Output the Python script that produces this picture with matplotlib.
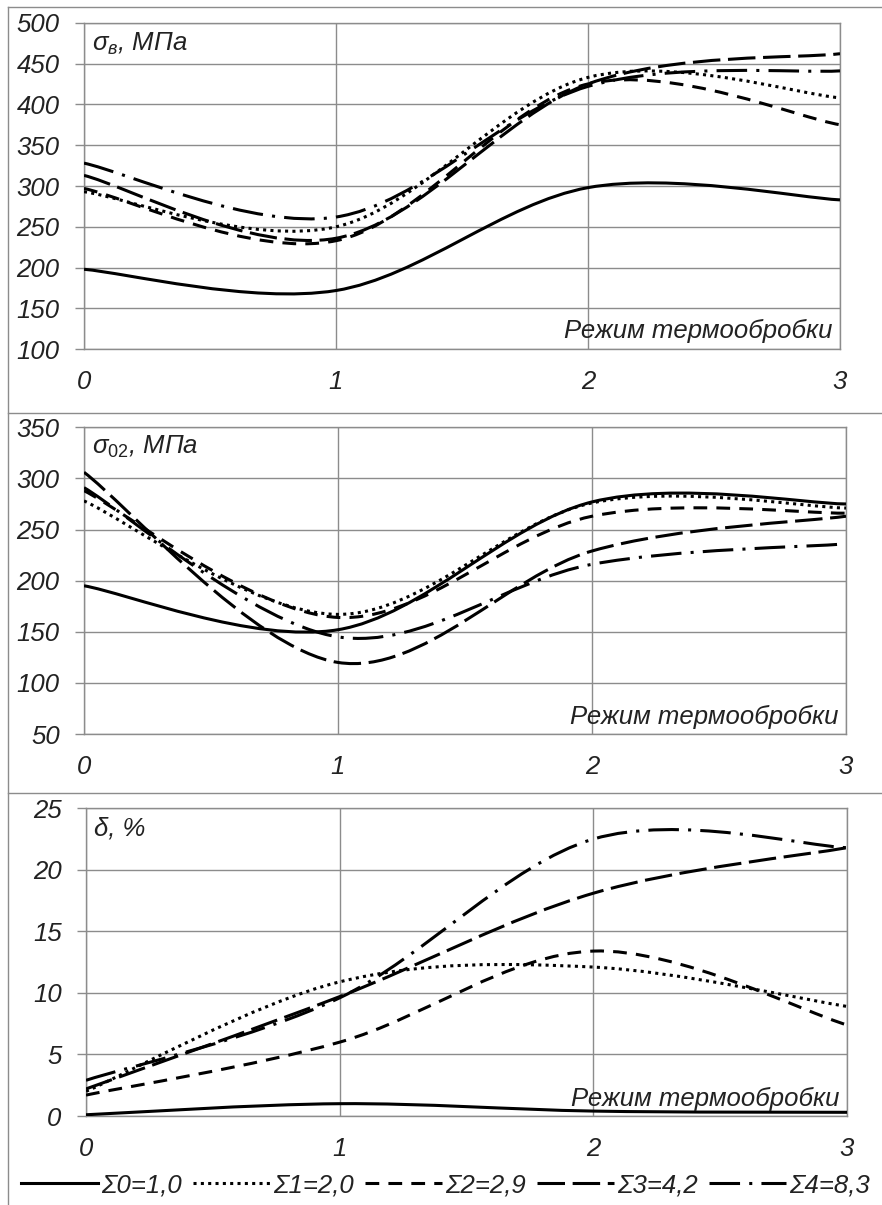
import matplotlib
matplotlib.use("Agg")
import matplotlib.pyplot as plt
from matplotlib.path import Path
from matplotlib.patches import PathPatch
from matplotlib.lines import Line2D

plt.rcParams["font.family"] = ["Liberation Sans", "DejaVu Sans"]
plt.rcParams["mathtext.fontset"] = "custom"
plt.rcParams["mathtext.rm"] = "Liberation Sans"
plt.rcParams["mathtext.it"] = "Liberation Sans:italic"

# режим термообробки (x) and the five series per panel
MODES = [0, 1, 2, 3]
SERIES = ["Σ0=1,0", "Σ1=2,0", "Σ2=2,9", "Σ3=4,2", "Σ4=8,3"]

SIGMA_B = [
    [198, 172, 298, 283],
    [293, 250, 433, 408],
    [297, 233, 425, 375],
    [313, 236, 425, 462],
    [328, 262, 422, 441],
]
SIGMA_02 = [
    [195, 152, 277, 275],
    [278, 167, 276, 271],
    [288, 164, 263, 266],
    [306, 120, 229, 263],
    [291, 145, 216, 236],
]
DELTA = [
    [0.1, 1.0, 0.4, 0.3],
    [2.0, 10.9, 12.1, 8.9],
    [1.7, 6.0, 13.4, 7.4],
    [2.2, 9.7, 18.1, 21.8],
    [2.9, 9.6, 22.5, 21.8],
]

STYLES = ["-", (0, (1, 1.4)), (0, (4.5, 3)), (0, (9, 2.5)), (0, (10, 3, 1, 3))]
GRID = "#8c8c8c"
TXT = "#222222"
LW = 2.2
FS = 18.5

W, H = 882, 1205


def smooth_path(xs, ys):
    """Excel-like smoothed line: Catmull-Rom through the points as cubic Beziers."""
    pts = list(zip(xs, ys))
    n = len(pts)
    verts = [pts[0]]
    codes = [Path.MOVETO]
    for i in range(n - 1):
        p0 = pts[i - 1] if i > 0 else pts[i]
        p1, p2 = pts[i], pts[i + 1]
        p3 = pts[i + 2] if i + 2 < n else pts[i + 1]
        c1 = (p1[0] + (p2[0] - p0[0]) / 6, p1[1] + (p2[1] - p0[1]) / 6)
        c2 = (p2[0] - (p3[0] - p1[0]) / 6, p2[1] - (p3[1] - p1[1]) / 6)
        verts += [c1, c2, p2]
        codes += [Path.CURVE4] * 3
    return Path(verts, codes)


def px_axes(fig, left, top, right, bottom):
    return fig.add_axes([left / W, 1 - bottom / H, (right - left) / W, (bottom - top) / H])


def panel(ax, data, ylim, step, label):
    for vals, ls in zip(data, STYLES):
        patch = PathPatch(smooth_path(MODES, vals), fill=False, edgecolor="black",
                          lw=LW, linestyle=ls, capstyle="butt", joinstyle="round", zorder=3)
        ax.add_patch(patch)
    ax.set_xlim(0, 3)
    ax.set_ylim(*ylim)
    ax.set_xticks(MODES)
    ax.set_yticks(range(ylim[0], ylim[1] + 1, step))
    ax.grid(True, color=GRID, lw=1.0)
    for s in ax.spines.values():
        s.set_color(GRID)
        s.set_linewidth(1.0)
    ax.tick_params(axis="y", length=6.5, width=1.0, color=GRID, pad=11,
                   labelsize=FS)
    ax.tick_params(axis="x", length=0, pad=15, labelsize=FS)
    for t in ax.get_xticklabels() + ax.get_yticklabels():
        t.set_fontstyle("italic")
        t.set_color(TXT)
    ax.text(0.01, 0.935, label, transform=ax.transAxes, fontsize=FS,
            fontstyle="italic", va="center", ha="left", color=TXT)
    ax.text(0.99, 0.055, "Режим термообробки", transform=ax.transAxes,
            fontsize=FS, fontstyle="italic", va="center", ha="right", color=TXT)


fig = plt.figure(figsize=(W / 100, H / 100), dpi=100)

ax1 = px_axes(fig, 84, 22.7, 840, 349.3)
panel(ax1, SIGMA_B, (100, 500), 50, r"$\sigma_{в}$, МПа")
ax2 = px_axes(fig, 84, 427.3, 846, 734)
panel(ax2, SIGMA_02, (50, 350), 50, r"$\sigma_{02}$, МПа")
ax3 = px_axes(fig, 86, 808.3, 847, 1116)
panel(ax3, DELTA, (0, 25), 5, "δ, %")

# chart frames (three stacked Excel charts)
for y in (7, 413, 793):
    fig.add_artist(Line2D([8 / W, 1], [1 - y / H, 1 - y / H], color=GRID, lw=1.0))
fig.add_artist(Line2D([8 / W, 8 / W], [1 - 7 / H, 0], color=GRID, lw=1.0))

handles = [Line2D([], [], color="black", lw=LW, linestyle=ls, dash_capstyle="butt")
           for ls in STYLES]
leg = fig.legend(handles, SERIES, loc="center", bbox_to_anchor=(0.505, 1 - 1185 / H),
                 ncol=5, frameon=False, handlelength=3.0, handletextpad=0.1,
                 columnspacing=0.45, prop={"size": FS, "style": "italic"})
for t in leg.get_texts():
    t.set_color(TXT)

fig.savefig("out.png", dpi=100)
